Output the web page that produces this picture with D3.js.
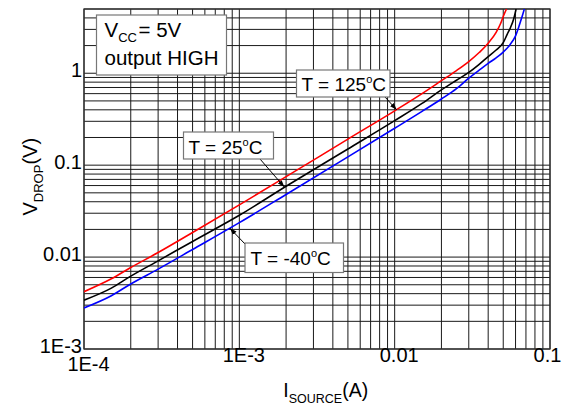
<!DOCTYPE html>
<html><head><meta charset="utf-8">
<script src="https://cdn.jsdelivr.net/npm/d3@7"></script>
<style>
body{margin:0;background:#fff;}
text{font-family:"Liberation Sans",Arial,sans-serif;fill:#000;}
</style></head>
<body>
<svg id="chart" width="566" height="406"></svg>
<script>
// ---- data ----
const currentRed   = [1e-4,1.5e-4,2e-4,3e-4,5e-4,1e-3,2e-3,5e-3,0.01,0.015,0.02,0.025,0.03,0.035,0.04,0.045,0.048,0.05,0.0525];
const vdropRed     = [0.0042,0.0058,0.0077,0.0112,0.0185,0.037,0.075,0.192,0.39,0.60,0.83,1.07,1.34,1.68,2.12,2.78,3.45,4.15,5];
const currentBlack = [1e-4,1.5e-4,2e-4,3e-4,5e-4,1e-3,2e-3,5e-3,0.01,0.015,0.02,0.025,0.03,0.035,0.04,0.045,0.05,0.053,0.0557,0.0585,0.0605];
const vdropBlack   = [0.0034,0.0046,0.0062,0.0091,0.0148,0.0285,0.059,0.150,0.305,0.47,0.66,0.84,1.02,1.25,1.52,1.79,2.15,2.65,3.15,3.95,5];
const currentBlue  = [1e-4,1.5e-4,2e-4,3e-4,5e-4,1e-3,2e-3,5e-3,0.01,0.015,0.02,0.025,0.03,0.035,0.04,0.045,0.05,0.055,0.06,0.063,0.066,0.0684];
const vdropBlue    = [0.0028,0.0038,0.0051,0.0074,0.0121,0.0237,0.048,0.123,0.252,0.385,0.525,0.68,0.885,1.08,1.28,1.47,1.70,2.02,2.55,3.2,4.1,5];
const seriesNames  = ["T = 125","T = 25","T = -40"];
const xTickValues  = [1e-4,1e-3,0.01,0.1];
const xTickLabels  = ["1E-4","1E-3","0.01","0.1"];
const yTickValues  = [1e-3,0.01,0.1,1];
const yTickLabels  = ["1E-3","0.01","0.1","1"];

// ---- layout ----
const L=84,R=550,T=9,B=349;
const FONT='"Liberation Sans",Arial,sans-serif';
const svg=d3.select("#chart");
const x=d3.scaleLog().domain([1e-4,0.1]).range([L,R]);
const y=d3.scaleLog().domain([1e-3,5]).range([B,T]);

// grid
const g=svg.append("g");
g.selectAll("line.vx").data(x.ticks()).join("line")
  .attr("x1",d=>x(d)).attr("x2",d=>x(d)).attr("y1",T).attr("y2",B)
  .attr("stroke","#1a1a1a").attr("stroke-width",1);
g.selectAll("line.hy").data(y.ticks()).join("line")
  .attr("y1",d=>y(d)).attr("y2",d=>y(d)).attr("x1",L).attr("x2",R)
  .attr("stroke","#1a1a1a").attr("stroke-width",1);
svg.append("rect").attr("x",L).attr("y",T).attr("width",R-L).attr("height",B-T)
  .attr("fill","none").attr("stroke","#333").attr("stroke-width",1.3);

// axes
const xdx=[4,4,4,-3], xy=[22,13,13,13];
const xa=svg.append("g").attr("transform",`translate(0,${B})`)
  .call(d3.axisBottom(x).tickValues(xTickValues).tickFormat((d,i)=>xTickLabels[i]).tickSize(0).tickPadding(0));
xa.select(".domain").remove();
xa.selectAll("text").attr("font-size",20).attr("font-family",FONT)
  .attr("fill","#000").attr("dy",null)
  .attr("dx",(d,i)=>xdx[i])
  .attr("y",(d,i)=>xy[i]);
const ya=svg.append("g").attr("transform",`translate(${L},0)`)
  .call(d3.axisLeft(y).tickValues(yTickValues).tickFormat((d,i)=>yTickLabels[i]).tickSize(0).tickPadding(2));
ya.select(".domain").remove();
ya.selectAll("text").attr("font-size",20).attr("font-family",FONT)
  .attr("fill","#000").attr("dy",3.5);

// curves
svg.append("clipPath").attr("id","clip").append("rect").attr("x",L).attr("y",T).attr("width",R-L).attr("height",B-T);
const line=d3.line().x(d=>x(d[0])).y(d=>y(d[1])).curve(d3.curveMonotoneX);
const curves=[[currentRed,vdropRed,"#ff0000"],[currentBlack,vdropBlack,"#000000"],[currentBlue,vdropBlue,"#0000ff"]];
curves.forEach(([cx,cy,col])=>{
  svg.append("path").attr("clip-path","url(#clip)").attr("d",line(cx.map((c,i)=>[c,cy[i]])))
    .attr("fill","none").attr("stroke",col).attr("stroke-width",1.6);
});

// arrow marker
svg.append("defs").append("marker").attr("id","arr").attr("viewBox","0 0 10 10")
  .attr("refX",10).attr("refY",5).attr("markerWidth",7).attr("markerHeight",7).attr("orient","auto")
  .append("path").attr("d","M0,1.5 L10,5 L0,8.5 Z").attr("fill","#000");

// info box
svg.append("rect").attr("x",96.5).attr("y",15).attr("width",130).attr("height",60)
  .attr("fill","#fff").attr("stroke","#777").attr("stroke-width",1.2);
const t1=svg.append("text").attr("x",104.5).attr("y",36.5).attr("font-size",20.5);
t1.append("tspan").text("V");
t1.append("tspan").attr("font-size",13).attr("dy",5).text("CC");
t1.append("tspan").attr("dy",-5).attr("dx",1.5).text("= 5V");
svg.append("text").attr("x",104.5).attr("y",65).attr("font-size",20.5).text("output HIGH");

// temperature annotations
const ann=[
  {name:seriesNames[0],box:[296.5,70,93.5,27],tx:301.5,ty:91,from:[385,97],at:[0.0103,0.40]},
  {name:seriesNames[1],box:[183.5,132,90,27],tx:188.5,ty:154.3,from:[260,159],at:[0.00195,0.0578]},
  {name:seriesNames[2],box:[245,243,98.5,29.5],tx:250.5,ty:265,from:[245,244],at:[0.00087,0.0206]}
];
ann.forEach(a=>{
  svg.append("line").attr("x1",a.from[0]).attr("y1",a.from[1])
    .attr("x2",x(a.at[0])).attr("y2",y(a.at[1]))
    .attr("stroke","#000").attr("stroke-width",1).attr("marker-end","url(#arr)");
  svg.append("rect").attr("x",a.box[0]).attr("y",a.box[1]).attr("width",a.box[2]).attr("height",a.box[3])
    .attr("fill","#fff").attr("stroke","#777").attr("stroke-width",1.2);
  const t=svg.append("text").attr("x",a.tx).attr("y",a.ty).attr("font-size",19);
  t.append("tspan").text(a.name);
  t.append("tspan").attr("font-size",11).attr("dy",-8).text("o");
  t.append("tspan").attr("dy",8).text("C");
});

// axis titles
const xt=svg.append("text").attr("x",283.3).attr("y",396.7).attr("font-size",19.5);
xt.append("tspan").text("I");
xt.append("tspan").attr("font-size",12.5).attr("dy",6).text("SOURCE");
xt.append("tspan").attr("dy",-6).text("(A)");
const yt=svg.append("text").attr("transform","translate(37,215.5) rotate(-90)").attr("font-size",20);
yt.append("tspan").text("V");
yt.append("tspan").attr("font-size",13).attr("dy",6).text("DROP");
yt.append("tspan").attr("dy",-6).text("(V)");
</script>
</body></html>
